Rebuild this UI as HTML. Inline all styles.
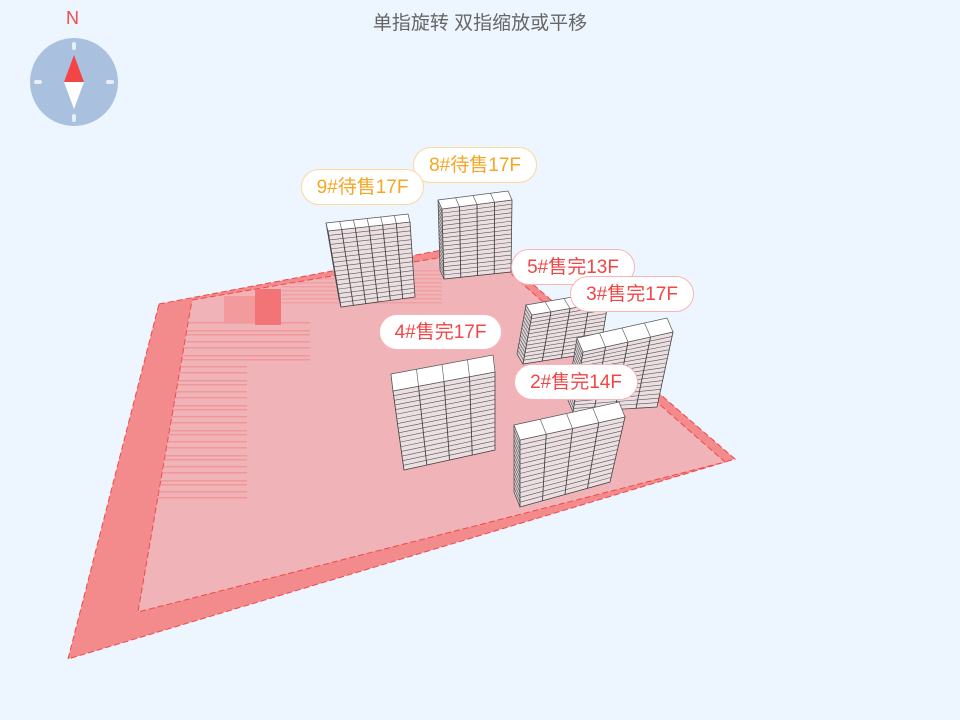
<!DOCTYPE html>
<html><head><meta charset="utf-8"><style>
html,body{margin:0;padding:0;background:#edf5fe;}
body{width:960px;height:720px;overflow:hidden;position:relative;font-family:"Liberation Sans","Noto Sans CJK SC",sans-serif;}
.t{position:absolute;left:0;width:960px;top:8px;text-align:center;color:#666;font-size:19px;}
.n{position:absolute;left:66px;top:8px;color:#f34a4a;font-size:18px;}
.lb{position:absolute;height:36px;line-height:36px;border-radius:19px;background:#fff;text-align:center;font-size:19px;box-sizing:border-box;}
.o{color:#f5a623;border:1px solid #fbd89e;}
.r{color:#f04646;border:1px solid #f8b4b6;}
</style></head><body>
<svg id="s" width="960" height="720" style="position:absolute;left:0;top:0">
<defs><clipPath id="cp"><polygon points="192,300 484,250 725,462 138,612"/></clipPath></defs>
<circle cx="74" cy="82" r="44" fill="#a9c1df"/>
<rect x="72" y="42" width="4" height="8" rx="2" fill="#e8eef7"/>
<rect x="72" y="114" width="4" height="8" rx="2" fill="#e8eef7"/>
<rect x="34" y="80" width="8" height="4" rx="2" fill="#e8eef7"/>
<rect x="106" y="80" width="8" height="4" rx="2" fill="#e8eef7"/>
<polygon points="74,55 64,82 84,82" fill="#f34545"/>
<polygon points="74,109 64,82 84,82" fill="#fff"/>
<polygon points="159,304 484,242 735,459 68,659" fill="#f38b8c" stroke="#f04848" stroke-width="1" stroke-dasharray="6,3"/>
<polygon points="192,300 484,250 725,462 138,612" fill="#f0b4b8" stroke="#f04848" stroke-width="1" stroke-dasharray="6,3"/>
<g id="st" clip-path="url(#cp)"></g>
<rect x="224" y="296" width="31" height="26" fill="#f39395" opacity="0.8"/>
<rect x="255" y="289" width="26" height="36" fill="#f27476"/>
<g id="b"></g>
</svg>
<div class="t">单指旋转 双指缩放或平移</div>
<div class="n">N</div>
<div class="lb o" style="left:413px;top:147px;width:124px;">8#待售17F</div>
<div class="lb o" style="left:301px;top:169px;width:123px;">9#待售17F</div>
<div class="lb r" style="left:511px;top:249px;width:124px;">5#售完13F</div>
<div class="lb r" style="left:570px;top:276px;width:124px;">3#售完17F</div>
<div class="lb r" style="left:379px;top:314px;width:123px;">4#售完17F</div>
<div class="lb r" style="left:514px;top:364px;width:124px;">2#售完14F</div>
<script>
var ns="http://www.w3.org/2000/svg";
function el(p,t,a){var e=document.createElementNS(ns,t);for(var k in a)e.setAttribute(k,a[k]);p.appendChild(e);return e;}
var st=document.getElementById('st');
for(var y=322;y<500;y+=4+((y*7)%5)){var w=(y<360?160:97);el(st,'rect',{x:150,y:y,width:w,height:1.5,fill:'#f08a8d',opacity:0.7});}
for(var y=270;y<305;y+=4){el(st,'rect',{x:282,y:y,width:160,height:1.5,fill:'#f08a8d',opacity:0.5});}
var g=document.getElementById('b');
function L(a,b,t){return [a[0]+(b[0]-a[0])*t,a[1]+(b[1]-a[1])*t];}
function P(a){return a.map(function(p){return p[0].toFixed(1)+','+p[1].toFixed(1)}).join(' ');}
function bld(TL,TR,BL,BR,ro,cols,fl){
 var RL=[TL[0]+ro[0],TL[1]+ro[1]],RR=[TR[0]+ro[0],TR[1]+ro[1]];
 var SB=[BL[0]+ro[0],BL[1]+ro[1]];
 el(g,'polygon',{points:P([RL,TL,BL,SB]),fill:'#d9cfd2',stroke:'#444','stroke-width':0.7});
 for(var i=1;i<fl;i++){var a=L(RL,SB,i/fl),b=L(TL,BL,i/fl);el(g,'line',{x1:a[0],y1:a[1],x2:b[0],y2:b[1],stroke:'#555','stroke-width':0.6});}
 el(g,'polygon',{points:P([TL,TR,BR,BL]),fill:'#ecdfe2',stroke:'#444','stroke-width':0.8});
 for(var i=1;i<fl;i++){var a=L(TL,BL,i/fl),b=L(TR,BR,i/fl);el(g,'line',{x1:a[0],y1:a[1],x2:b[0],y2:b[1],stroke:'#555','stroke-width':0.6});}
 for(var j=1;j<cols;j++){var a=L(TL,TR,j/cols),b=L(BL,BR,j/cols);el(g,'line',{x1:a[0],y1:a[1],x2:b[0],y2:b[1],stroke:'#444','stroke-width':0.9});}
 el(g,'polygon',{points:P([RL,RR,TR,TL]),fill:'#fff',stroke:'#555','stroke-width':0.7});
 for(var j=1;j<cols;j++){var a=L(TL,TR,j/cols),b=L(RL,RR,j/cols);el(g,'line',{x1:a[0],y1:a[1],x2:b[0],y2:b[1],stroke:'#666','stroke-width':0.7});}
}
bld([328,231],[410,222],[341,307],[415,297],[-2,-8],6,17);
bld([442,209],[512,200],[444,279],[511,272],[-4,-9],4,17);
bld([532,315],[608,302],[523,364],[600,352],[-6,-10],4,13);
bld([583,352],[673,332],[573,412],[657,407],[-6,-14],4,17);
bld([393,391],[495,372],[404,470],[495,450],[-2,-17],4,17);
bld([520,440],[625,417],[520,507],[610,482],[-6,-15],4,14);
</script>
</body></html>
